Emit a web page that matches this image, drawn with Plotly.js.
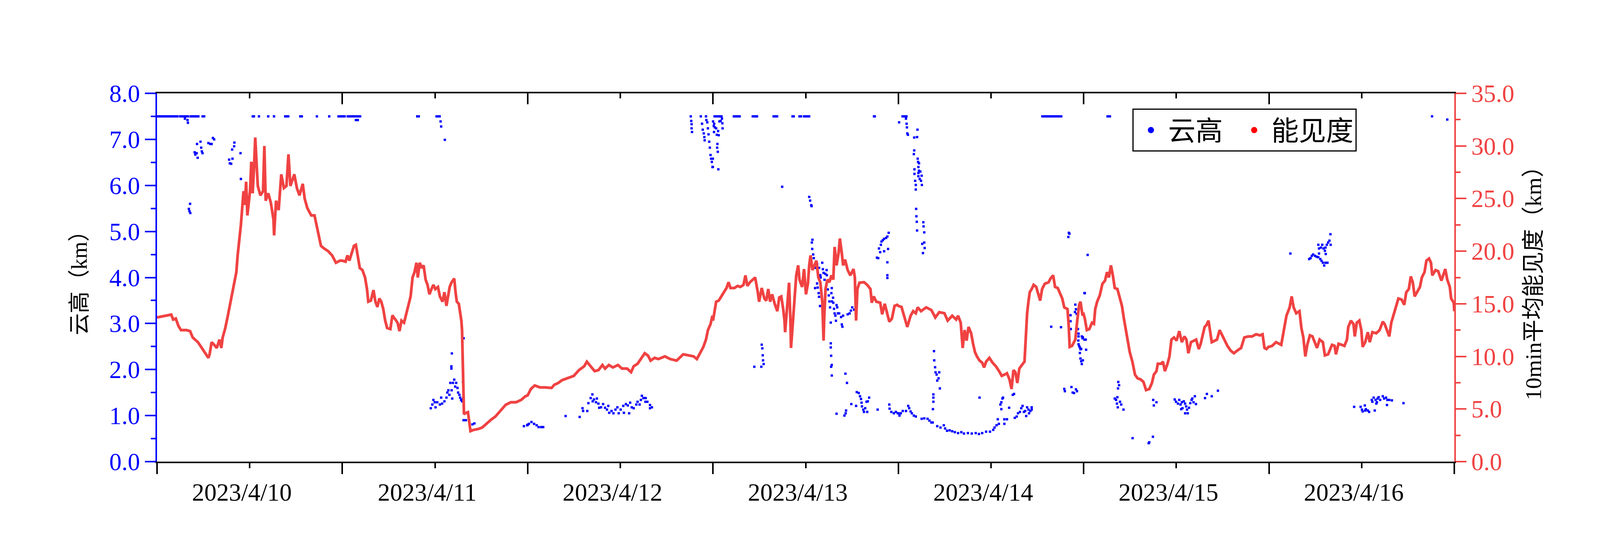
<!DOCTYPE html>
<html><head><meta charset="utf-8">
<script src="https://cdn.plot.ly/plotly-3.0.1.min.js"></script>
<style>html,body{margin:0;padding:0;background:#fff}#chart{width:4317px;height:1416px}</style>
</head><body><div id="chart"></div>
<script>
// ---------- DATA (hours since 2023-04-10 00:00) ----------
const START = '2023-04-10T00:00:00Z';
const xTickStep = 86400000;
const CLEAR_KM = 7.5;

// 10-min mean visibility (km)
const visH_0410 = [0,0.91,1.59,1.84,2.09,2.43,2.77,3.1,3.78,4.28,4.62,5.3,5.8,6.31,6.65,6.81,7.07,7.4,7.74,8.08,8.33,8.5,8.84,9.17,9.43,9.68,10.02,10.27,10.44,10.69,10.86,11.03,11.2,11.37,11.54,11.7,11.87,12.04,12.21,12.38,12.55,12.72,12.88,13.05,13.39,13.73,13.9,14.07,14.4,14.74,15.08,15.16,15.41,15.75,16.09,16.43,16.76,17.02,17.27,17.61,17.78,18.11,18.45,18.87,19.12,19.46,19.97,20.39,20.73,20.98,21.23,21.65,22.16,22.67,23.17,23.68];
const visV_0410 = [13.7,13.86,13.97,13.97,13.5,13.6,12.9,12.5,12.5,12.4,11.8,11.35,10.8,10.2,9.86,10.2,11.35,11.1,10.8,11.6,10.8,11.8,12.7,13.86,14.8,15.7,16.8,18,19.6,21.2,22.5,24.1,25.7,24.4,26.6,23.4,24.6,25.7,28.5,25.5,27.8,30.8,28.5,26.2,25.3,25.7,30,24.8,25.5,24.6,23,21.5,24.8,23.9,27.3,26,26.2,29.2,26.2,26.9,27.3,26,25.3,26.4,25,24.1,23.4,23.4,22.3,21.6,20.5,20.25,20,19.6,18.9,19.1];
const visH_0411 = [24.0,24.41,24.66,24.91,25.25,25.5,25.75,26.01,26.26,26.6,26.94,27.19,27.36,27.69,28.03,28.28,28.54,28.79,29.04,29.3,29.55,29.8,30.22,30.48,30.81,31.15,31.4,31.66,31.99,32.25,32.58,32.84,33.09,33.34,33.6,33.77,34.02,34.27,34.52,34.78,35.03,35.28,35.54,35.79,36.04,36.38,36.63,36.97,37.22,37.48,37.64,37.9,38.15,38.49,38.66,38.82,39.08,39.25,39.41,39.5,39.55,39.62,39.67,39.75,39.92,40.26,40.43,40.59,40.93,41.61,42.11,42.62,43.29,43.8,44.47,45.15,45.82,46.5,47.17,47.68];
const visV_0411 = [19.1,19.0,19.6,19.1,19.8,20.5,20.6,19.3,18.4,18.2,17.5,16.4,15.2,15.3,16.3,15.2,14.7,15.5,15.2,14.5,13.4,12.7,12.6,13.9,13.6,13.2,12.4,13.4,13.2,13.9,14.9,15.7,17.5,18.0,18.9,17.5,18.9,18.4,18.65,17.3,16.8,15.9,16.4,16.8,16.4,16.6,15.7,15.2,16.1,14.8,15.5,16.6,17.05,17.4,16.1,15.2,15.0,14.3,13.4,12.5,10.4,8.15,5.9,4.5,4.6,4.7,3.8,2.9,3.0,3.1,3.24,3.6,4.0,4.27,4.84,5.4,5.64,5.64,5.87,6.2];
const visH_0412 = [48.0,48.41,48.91,49.59,50.26,51.1,51.44,51.95,52.45,53.13,53.97,54.65,55.32,55.66,55.99,56.33,56.67,57.17,57.68,58.02,58.52,59.03,59.7,60.21,60.88,61.39,61.73,62.23,62.74,63.16,63.58,63.92,64.43,64.93,65.78,66.45,67.29,68.14,68.81,69.49,69.91,70.33,70.75,71.09,71.34,71.68,71.93];
const visV_0412 = [6.3,6.9,7.24,7.05,7.05,7.0,7.3,7.47,7.74,7.92,8.15,8.7,9.06,9.5,9.18,8.84,8.6,8.7,9.18,8.84,9.18,8.95,9.18,8.84,8.84,8.5,9.06,9.3,9.86,10.3,10.07,9.6,9.86,9.75,10.0,9.75,9.6,10.2,10.1,10.0,9.75,10.3,10.9,11.6,12.5,13.06,13.86];
const visH_0413 = [72.0,72.15,72.41,72.74,73.08,73.42,73.75,74.01,74.26,74.77,75.19,75.53,75.95,76.2,76.45,76.79,77.13,77.46,77.8,77.97,78.31,78.65,78.9,79.15,79.4,79.66,79.99,80.33,80.58,80.84,81.09,81.26,81.34,81.51,81.68,81.85,82.02,82.1,82.27,82.44,82.61,82.78,83.03,83.2,83.54,83.79,84.04,84.29,84.46,84.63,84.88,85.14,85.39,85.64,85.9,86.15,86.32,86.4,86.57,86.82,87.08,87.33,87.58,87.75,88.0,88.26,88.43,88.68,88.85,89.1,89.44,89.78,90.2,90.37,90.45,90.53,90.7,90.96,91.55,91.97,92.39,92.56,92.81,93.15,93.65,93.91,94.24,94.58,94.83,95.17,95.51,95.85];
const visV_0413 = [13.4,14.0,15.2,15.3,15.7,16.1,16.5,17.05,16.5,16.5,16.7,16.6,16.8,17.7,16.7,17.05,17.3,17.5,16.1,15.2,16.5,15.5,15.3,16.4,15.2,15.9,15.0,14.3,15.6,15.7,14.5,13.4,12.3,14.1,15.2,17.0,13.6,10.8,12.5,14.1,16.1,17.7,18.65,17.3,16.6,18.3,15.9,16.9,18.65,19.6,18.2,18.65,19.1,17.5,17.05,15.2,11.5,13.6,16.4,17.3,17.05,17.7,17.3,20.4,18.65,19.8,21.2,19.8,18.65,19.2,18.2,17.7,18.3,17.5,16.1,13.4,16.4,17.0,17.05,16.8,16.4,15.1,15.7,15.2,15.1,14.0,15.0,13.9,13.3,13.6,14.8,14.9];
const visH_0414 = [96.0,96.41,96.74,97.16,97.59,97.92,98.26,98.51,98.94,99.61,100.28,100.79,101.3,101.97,102.39,102.98,103.49,103.74,104.08,104.16,104.33,104.58,104.84,105.09,105.43,105.68,105.93,106.19,106.52,106.86,107.11,107.37,107.79,108.21,108.63,109.05,109.39,109.73,110.07,110.4,110.66,110.91,111.16,111.41,111.67,112.0,112.34,112.51,112.68,112.85,113.02,113.27,113.52,113.86,114.11,114.37,114.62,114.96,115.46,115.71,116.05,116.3,116.64,116.98,117.23,117.49,117.91,118.08,118.19,118.5,118.92,119.17,119.42,119.59,119.85];
const visV_0414 = [14.8,14.7,13.86,12.8,13.86,14.3,14.1,14.66,14.3,14.66,14.4,13.7,14.2,14.1,13.4,13.86,13.5,13.86,13.2,12.1,10.8,12.5,11.5,12.8,12.2,11.2,10.4,9.98,9.6,9.4,8.95,9.5,9.86,9.4,9.06,8.6,8.15,8.26,8.4,7.8,6.9,8.7,8.5,7.47,8.84,9.18,9.5,11.8,14.1,15.2,16.1,16.4,16.8,16.6,15.9,15.3,16.4,16.9,17.05,17.4,17.7,16.6,16.5,15.9,15.5,14.66,14.5,12.7,10.9,11.0,11.6,13.4,14.9,15.2,13.9];
const visH_0415 = [120.0,120.15,120.41,120.74,121.08,121.33,121.5,121.75,122.09,122.43,122.77,123.02,123.27,123.53,123.78,124.03,124.37,124.71,124.96,125.21,125.46,125.72,125.97,126.31,126.65,126.98,127.4,127.74,128.08,128.5,128.84,129.09,129.43,129.6,130.02,130.27,130.52,130.86,131.11,131.37,131.7,132.04,132.38,132.72,133.05,133.31,133.56,133.9,134.23,134.57,134.91,135.16,135.41,135.67,135.92,136.17,136.59,136.93,137.27,137.61,137.94,138.28,138.62,139.04,139.46,139.88,140.39,140.81,141.32,141.82,142.33,142.83,143.17,143.42,143.68,143.93];
const visV_0415 = [14.0,13.6,12.5,12.6,13.2,13.1,14.5,15.2,15.8,16.9,17.2,18.0,17.5,18.65,17.7,16.5,16.4,15.5,14.8,13.6,12.5,11.35,10.4,9.5,8.26,7.92,7.8,7.58,6.8,6.9,7.47,8.26,8.6,9.3,9.3,9.5,8.6,9.3,10.0,11.6,11.8,11.5,12.4,11.35,11.9,11.6,10.3,11.35,11.5,11.6,10.7,11.2,12.0,12.8,13.0,13.4,11.35,11.5,11.6,12.5,12.0,11.6,11.0,10.55,10.3,10.55,10.8,11.8,11.9,11.9,12.1,12.0,12.1,10.8,10.7,10.9];
const visH_0416 = [144.0,144.41,144.91,145.59,145.92,146.26,146.68,146.94,147.19,147.53,147.95,148.2,148.45,148.71,148.96,149.3,149.63,149.89,150.22,150.56,150.98,151.24,151.66,152.16,152.5,152.67,153.01,153.43,153.77,154.1,154.27,154.61,154.95,155.11,155.37,155.7,155.96,156.13,156.46,156.8,157.05,157.39,157.9,158.32,158.74,158.99,159.33,159.58,159.84,160.17,160.51,160.76,161.18,161.52,161.78,162.11,162.37,162.62,162.87,163.21,163.55,163.8,164.14,164.39,164.73,164.98,165.15,165.57,165.91,166.33,166.58,166.83,167.09,167.42,167.59,167.93,168.0];
const visV_0416 = [10.9,11.0,11.35,11.1,12.3,13.86,14.66,15.7,14.66,14.1,14.3,12.7,11.8,10.0,11.1,12.0,11.9,11.35,10.8,11.6,11.35,10.1,10.2,11.1,11.0,10.2,11.2,11.1,11.0,11.6,12.8,13.4,13.06,11.9,13.2,13.4,12.5,10.9,11.35,12.3,11.35,12.3,12.2,12.5,13.3,13.06,12.3,11.9,13.2,14.0,14.8,15.5,15.4,14.9,16.1,16.4,17.6,17.05,15.7,16.2,16.6,17.5,18.0,19.1,19.3,18.9,17.7,18.2,18.1,17.2,17.7,18.3,17.3,16.6,15.5,15.1,14.3];

// cloud base height (km); CLEAR_KM marks the top-of-range reports
const clearHour = [0.1,0.3,0.5,0.7,0.9,1.1,1.3,1.5,1.7,1.9,2.1,2.3,2.5,2.65,3.0,3.2,3.4,3.6,3.8,4.0,4.35,4.55,4.75,4.95,5.15,5.35,5.9,6.1,12.4,12.55,13.2,14.4,15.15,16.6,16.8,17.0,18.55,18.75,20.7,22.3,23.5,23.7,23.9,
  24.1,24.3,24.7,24.9,25.1,25.3,25.5,25.7,25.9,26.1,26.3,33.7,33.9,36.2,36.4,36.6,
  72.2,72.4,72.7,72.9,73.1,74.7,74.9,75.1,75.3,75.45,77.15,77.35,77.55,77.7,79.85,80.05,80.3,82.3,82.45,83.2,83.4,83.8,84.0,84.2,84.45,92.85,92.95,
  96.55,96.75,96.95,97.05,114.65,114.85,115.05,115.25,115.45,115.65,115.85,116.05,116.25,116.5,116.8,117.1,
  123.1,123.3,123.4,165.12];
const cloudH_0410 = [3.61,3.95,4.0,4.28,4.12,4.2,4.31,4.87,4.96,5.13,5.26,5.18,5.63,5.72,5.8,5.89,6.65,6.9,7.07,7.24,7.4,9.34,9.43,9.6,9.77,9.73,9.99,10.02,10.81,10.86];
const cloudV_0410 = [7.45,7.42,7.36,5.6,5.49,5.44,5.4,6.72,6.67,6.7,6.6,6.9,6.95,6.82,6.74,6.7,6.92,6.9,6.9,7.03,7.0,6.56,6.48,6.47,6.58,6.78,6.85,6.93,6.7,6.14];
const cloudH_0411 = [25.75,26.0,36.72,36.8,37.27,35.45,35.65,35.79,35.96,36.07,36.29,36.63,36.8,36.92,37.22,37.48,37.6,37.73,37.86,37.98,38.15,38.32,38.23,38.49,38.61,38.74,38.91,38.99,39.16,39.25,39.38,39.5,39.62,39.67,39.62,39.7,38.18,38.12,38.12,39.7,40.0,40.85,41.1,47.51,47.93];
const cloudV_0411 = [7.42,7.42,7.39,7.28,6.99,1.16,1.24,1.34,1.29,1.18,1.29,1.24,1.39,1.26,1.31,1.39,1.5,1.55,1.45,1.71,1.55,1.71,1.37,1.78,1.63,1.71,1.6,1.5,1.45,1.39,1.34,1.31,1.73,1.68,1.37,2.68,2.35,2.07,2.02,0.9,0.9,0.81,0.83,0.77,0.79];
const cloudH_0412 = [48.0,48.15,48.49,48.83,49.16,49.41,49.75,50.01,52.91,54.73,55.1,55.18,55.72,55.86,56.16,56.38,56.42,56.58,56.84,56.96,57.16,57.26,57.51,57.77,58.02,58.27,58.44,58.56,58.86,59.11,59.37,59.62,59.79,60.04,60.38,60.46,60.72,60.97,61.14,61.27,61.48,61.73,62.07,62.23,62.49,62.66,62.79,62.99,63.25,63.28,63.5,63.84,63.84,64.09,
  69.12,69.18,69.23,69.23,69.28,70.42,70.58,70.67,70.8,70.88,70.92,71.09,71.14,71.26,71.34,71.42,71.51,71.59,71.68,71.76,71.85,71.93];
const cloudV_0412 = [0.8,0.82,0.86,0.82,0.79,0.75,0.75,0.75,0.99,0.97,1.16,1.1,1.1,1.27,1.38,1.46,1.31,1.35,1.29,1.37,1.26,1.17,1.18,1.25,1.17,1.13,1.21,1.06,1.1,1.05,1.13,1.18,1.05,1.13,1.21,1.06,1.25,1.22,1.05,1.28,1.18,1.16,1.24,1.3,1.24,1.34,1.43,1.38,1.3,1.38,1.3,1.23,1.16,1.18,
  7.5,7.4,7.33,7.24,7.16,7.5,7.34,7.21,7.13,7.05,6.98,7.5,7.42,7.37,7.24,7.11,6.95,6.82,6.66,6.58,6.51,6.4];
const cloudH_0413 = [72.01,72.1,72.13,72.15,72.24,72.41,72.49,72.66,72.74,72.83,72.99,73.16,73.21,73.24,72.57,72.54,72.62,71.98,71.98,72.69,
  80.96,84.46,84.58,84.72,84.77,84.88,84.8,84.85,84.97,85.05,85.22,85.49,85.73,85.9,85.95,86.15,86.23,86.32,86.44,86.54,86.71,86.74,86.87,86.99,87.08,87.16,87.38,87.33,87.41,87.55,87.58,87.67,87.75,87.85,88.0,88.09,87.92,88.17,88.34,88.59,88.85,88.76,88.68,89.44,89.69,89.86,90.03,90.28,90.53,
  85.48,85.22,85.56,85.68,85.73,85.86,87.25,78.31,78.39,78.44,78.48,78.56,77.35,78.26,87.25,87.25,87.3,87.38,87.3,87.38,89.15,89.35,
  90.62,90.87,91.04,91.17,91.24,91.29,91.46,91.55,91.71,91.88,92.05,92.22,91.97,89.91,90.53,88.0,89.02,89.18,89.23,93.32,94.83,94.87,95.09,95.42,95.68,95.93,
  93.49,93.65,93.74,93.82,93.99,94.16,94.42,94.58,94.75,93.4,93.23,94.16,94.67,94.58,94.58,94.58];
const cloudV_0413 = [7.39,7.29,7.16,7.34,7.26,7.24,7.1,7.18,7.09,7.39,7.4,7.45,7.35,7.24,6.9,6.82,6.73,6.58,6.4,6.35,
  5.97,5.75,5.67,5.57,5.55,4.82,4.76,4.62,4.5,4.42,4.21,4.29,4.21,4.05,4.0,4.32,4.18,4.1,3.95,4.08,4.16,4.05,3.74,3.61,3.48,3.35,3.77,3.66,3.48,3.56,3.45,3.32,3.22,3.17,3.4,3.35,3.06,3.22,3.22,3.14,3.17,2.93,2.98,3.2,3.22,3.28,3.35,3.3,3.22,
  3.87,3.77,3.78,3.66,3.58,3.38,3.02,2.54,2.46,2.31,2.2,2.12,2.06,2.06,2.57,2.48,2.3,2.1,2.06,1.87,1.91,1.71,
  1.51,1.49,1.42,1.36,1.28,1.2,1.13,1.08,1.16,1.3,1.31,1.39,1.08,1.25,1.21,1.04,1.0,1.05,1.11,1.13,1.24,1.15,1.08,1.05,1.08,1.05,
  4.63,4.55,4.71,4.78,4.81,4.84,4.86,4.89,4.97,4.42,4.43,4.57,4.62,4.33,4.05,3.99];
const cloudH_0414 = [96.1,96.99,97.07,97.11,97.16,97.24,98.48,98.43,98.06,98.06,98.01,98.51,98.56,98.68,98.6,98.68,98.85,99.02,98.6,98.6,98.77,98.94,98.09,98.09,98.18,98.26,98.26,99.05,98.31,98.34,98.39,98.43,99.24,99.27,99.36,99.1,99.36,99.41,99.19,
  100.62,100.65,100.76,100.82,100.96,101.3,101.21,101.04,101.38,100.54,100.54,100.54,100.48,
  96.0,96.15,96.32,96.57,96.99,97.28,97.41,97.59,97.75,98.01,98.26,99.02,99.36,99.78,100.03,100.28,100.45,101.04,101.46,101.89,102.06,102.31,102.65,102.98,103.32,103.74,104.16,104.5,105.01,105.51,106.02,106.44,106.86,107.37,107.87,108.29,108.46,108.72,108.88,109.02,
  106.52,109.22,109.34,109.48,109.56,109.34,109.73,110.07,109.73,110.35,110.82,110.99,111.08,111.33,111.5,111.75,111.92,112.09,112.26,112.43,112.56,112.68,112.85,112.93,113.1,113.27,113.27,
  115.8,117.07,118.08,118.16,118.02,118.92,119.0,118.87,119.09,118.3,118.3,118.33,119.04,119.26,119.34,119.34,119.76,119.85,119.31,119.34,119.42,119.51,119.59,119.68,119.51,119.59,119.68,119.76,120.1,120.1,117.49,117.57,118.42,118.58,118.75,119.0,119.14];
const cloudV_0414 = [7.37,7.45,7.34,7.26,7.13,7.1,7.21,7.05,7.04,6.76,6.68,6.58,6.51,6.48,6.4,6.32,6.3,6.21,6.27,6.2,6.14,6.1,6.35,6.25,6.1,6.01,5.91,6.01,5.49,5.33,5.21,5.02,5.2,5.11,4.98,4.73,4.76,4.64,4.53,
  2.4,2.2,2.05,1.94,1.89,1.94,1.81,1.76,1.59,1.46,1.39,1.3,1.14,
  1.05,1.0,1.05,1.1,1.1,1.21,1.16,1.09,1.05,1.0,0.98,0.93,0.94,0.93,0.89,0.85,0.85,0.77,0.74,0.79,0.72,0.67,0.68,0.66,0.64,0.62,0.64,0.61,0.62,0.61,0.62,0.6,0.62,0.65,0.65,0.69,0.74,0.79,0.92,0.82,
  1.39,1.24,1.29,1.37,1.39,1.14,0.92,0.92,0.82,1.17,1.45,1.47,0.95,0.98,1.05,1.08,1.16,1.21,1.08,1.1,0.99,1.18,1.13,1.05,1.1,1.18,1.13,
  2.93,2.92,4.97,4.95,4.88,3.41,3.31,3.25,3.21,3.18,3.05,2.88,2.88,2.88,2.78,2.72,2.72,2.68,2.63,2.55,2.51,2.48,2.44,2.45,2.36,2.24,2.18,2.12,3.66,2.65,1.58,1.53,1.62,1.5,1.49,1.57,1.53];
const cloudH_0415 = [120.52,120.15,119.9,120.27,120.32,119.9,124.48,124.59,124.45,124.37,124.03,124.2,124.31,124.71,124.87,124.42,125.16,126.34,128.42,128.5,128.97,129.01,129.09,129.43,
  131.79,131.96,132.21,132.38,132.55,132.72,132.8,132.97,133.14,133.27,133.39,133.48,133.64,133.81,133.98,134.07,134.23,134.4,134.54,133.14,132.63,135.72,135.96,136.59,137.39];
const cloudV_0415 = [4.49,3.66,2.7,2.65,2.43,2.2,1.73,1.66,1.59,1.4,1.37,1.34,1.26,1.3,1.24,1.18,1.13,0.51,0.4,0.42,0.54,1.34,1.22,1.29,
  1.35,1.3,1.26,1.34,1.24,1.29,1.16,1.31,1.26,1.2,1.13,1.05,1.17,1.27,1.34,1.37,1.29,1.42,1.25,1.05,1.14,1.38,1.47,1.42,1.54];
const cloudH_0416 = [167.09,146.77,149.21,149.38,149.55,149.72,149.97,150.17,150.39,150.65,150.81,150.98,151.15,151.32,151.57,150.39,150.48,150.48,150.73,150.9,151.07,151.24,151.32,151.49,151.66,151.83,151.96,151.99,151.35,
  155.03,155.87,156.04,156.13,156.41,156.55,156.8,156.97,156.46,157.7,157.31,157.39,157.56,157.81,157.98,158.07,158.2,158.4,158.74,158.91,159.16,159.33,159.58,159.92,159.28,161.42,157.9];
const cloudV_0416 = [7.43,4.52,4.4,4.42,4.47,4.5,4.47,4.45,4.44,4.4,4.36,4.32,4.26,4.32,4.32,4.71,4.63,4.52,4.65,4.71,4.63,4.58,4.65,4.71,4.76,4.8,4.94,4.71,4.51,
  1.19,1.19,1.13,1.09,1.22,1.14,1.11,1.08,1.11,1.11,1.34,1.3,1.39,1.34,1.29,1.37,1.4,1.34,1.42,1.37,1.39,1.34,1.34,1.33,1.23,1.27,1.26];

const xRange = ['2023-04-10 00:00:00', '2023-04-17 00:00:00'];
const seriesNames = ['云高', '能见度'];
const yLeftTitle = '云高（km）';
const yRightTitle = '10min平均能见度（km）';

// ---------- BUILD ----------
const t0 = Date.parse(START);
function toDate(h){ return new Date(t0 + h*3600000).toISOString().slice(0,19).replace('T',' '); }
const visH = [].concat(visH_0410, visH_0411, visH_0412, visH_0413, visH_0414, visH_0415, visH_0416);
const visV = [].concat(visV_0410, visV_0411, visV_0412, visV_0413, visV_0414, visV_0415, visV_0416);
const cloudH = [].concat(cloudH_0410, cloudH_0411, cloudH_0412, cloudH_0413, cloudH_0414, cloudH_0415, cloudH_0416, clearHour);
const cloudV = [].concat(cloudV_0410, cloudV_0411, cloudV_0412, cloudV_0413, cloudV_0414, cloudV_0415, cloudV_0416, clearHour.map(() => CLEAR_KM));

const BLUE = '#0000FF';
const RED = 'rgb(240,66,66)';
const TICKFONT = 'Liberation Serif, "Noto Sans CJK SC", serif';
const TITLEFONT = 'Liberation Serif, "Noto Sans CJK SC", serif';
const NBSP = '\u00A0';

const traces = [
  { type:'scatter', mode:'markers', x: cloudH.map(toDate), y: cloudV, xaxis:'x', yaxis:'y',
    marker:{symbol:'square', size:6, color:BLUE, line:{width:0}}, showlegend:false, hoverinfo:'skip' },
  { type:'scatter', mode:'lines', x: visH.map(toDate), y: visV, xaxis:'x2', yaxis:'y2',
    line:{color:RED, width:7}, showlegend:false, hoverinfo:'skip' },
  { type:'scatter', mode:'markers', x:[null], y:[null], name: seriesNames[0] + NBSP + NBSP, xaxis:'x', yaxis:'y',
    marker:{symbol:'circle', size:16, color:BLUE}, showlegend:true },
  { type:'scatter', mode:'markers', x:[null], y:[null], name: seriesNames[1], xaxis:'x', yaxis:'y',
    marker:{symbol:'circle', size:16, color:'#FF0000'}, showlegend:true }
];

const minorX = (dir) => ({dtick: xTickStep/2, ticks: dir, ticklen: 13, tickwidth: 4, tickcolor: '#000', showgrid: false});

const layout = {
  width: 4317, height: 1416,
  margin: {l: 402, r: 594, t: 239, b: 234, pad: 0},
  paper_bgcolor: '#fff', plot_bgcolor: '#fff',
  showlegend: true,
  legend: {
    x: 0.752, y: 0.9586, xanchor: 'left', yanchor: 'top', orientation: 'h',
    bordercolor: '#000', borderwidth: 3, bgcolor: '#fff',
    itemwidth: 78,
    font: {family: '"Noto Sans CJK SC"', size: 70, color: '#000'},
    itemclick: false, itemdoubleclick: false
  },
  xaxis: {
    type: 'date', range: xRange, showline: true, linecolor: '#000', linewidth: 4,
    ticks: 'outside', ticklen: 28, tickwidth: 4, tickcolor: '#000',
    dtick: xTickStep, tick0: '2023-04-10', tickformat: '%Y/%-m/%-d', ticklabelmode: 'period',
    ticklabelshift: -20, ticklabelstandoff: -8,
    tickfont: {family: TICKFONT, size: 63, color: '#000'},
    showgrid: false, zeroline: false, minor: minorX('outside'), fixedrange: true
  },
  xaxis2: {
    type: 'date', range: xRange, overlaying: 'x', side: 'top', anchor: 'y2',
    showline: true, linecolor: '#000', linewidth: 4,
    ticks: 'inside', ticklen: 28, tickwidth: 4, tickcolor: '#000',
    dtick: xTickStep, tick0: '2023-04-10', showticklabels: false,
    showgrid: false, zeroline: false, minor: minorX('inside'), fixedrange: true
  },
  yaxis: {
    range: [0, 8], dtick: 1, tick0: 0, tickformat: '.1f',
    showline: true, linecolor: BLUE, linewidth: 4,
    ticks: 'outside', ticklen: 27, tickwidth: 4, tickcolor: BLUE,
    tickfont: {family: TICKFONT, size: 63, color: BLUE},
    minor: {dtick: 0.5, ticks: 'outside', ticklen: 12, tickwidth: 4, tickcolor: BLUE, showgrid: false},
    title: {text: yLeftTitle, font: {family: TITLEFONT, size: 56, color: '#000'}, standoff: 40},
    showgrid: false, zeroline: false, fixedrange: true
  },
  yaxis2: {
    range: [0, 35], dtick: 5, tick0: 0, tickformat: '.1f', overlaying: 'y', side: 'right', anchor: 'x2',
    showline: true, linecolor: RED, linewidth: 4,
    ticks: 'outside', ticklen: 27, tickwidth: 4, tickcolor: RED,
    tickfont: {family: TICKFONT, size: 63, color: RED},
    minor: {dtick: 2.5, ticks: 'outside', ticklen: 12, tickwidth: 4, tickcolor: RED, showgrid: false},
    title: {text: yRightTitle, font: {family: TITLEFONT, size: 58, color: '#000'}, standoff: 30},
    showgrid: false, zeroline: false, fixedrange: true
  }
};

Plotly.newPlot('chart', traces, layout, {staticPlot: true, displayModeBar: false});
</script>
</body></html>
